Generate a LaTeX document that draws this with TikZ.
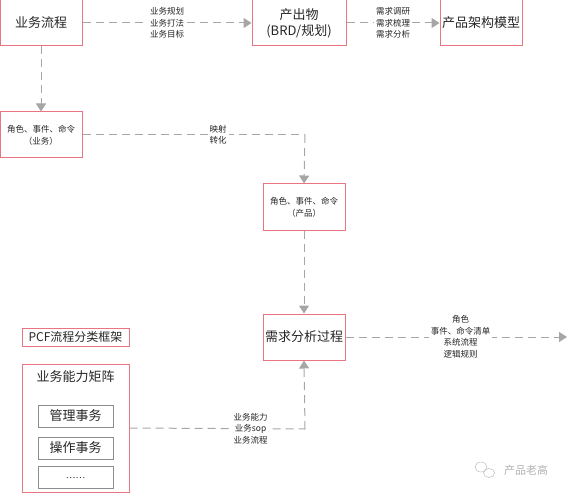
\documentclass[tikz,border=0pt]{standalone}
\usepackage{fontspec}
\setmainfont{Noto Sans CJK SC}
\usetikzlibrary{arrows.meta}
\definecolor{boxred}{RGB}{232,118,130}
\definecolor{linegray}{RGB}{166,166,166}
\definecolor{txt}{RGB}{38,38,38}
\begin{document}
\begin{tikzpicture}[x=1pt,y=-1pt,
  bigbox/.style={draw=boxred,line width=1pt,minimum width=82pt,minimum height=46pt,align=center,font=\fontsize{13}{16}\selectfont,text=txt,inner sep=0pt},
  smallbox/.style={draw=boxred,line width=1pt,minimum width=82pt,minimum height=46pt,align=center,font=\fontsize{8.5}{12}\selectfont,text=txt,inner sep=0pt},
  graybox/.style={draw=gray!90,line width=0.8pt,minimum width=75pt,minimum height=22pt,font=\fontsize{13}{16}\selectfont,text=txt,inner sep=0pt},
  conn/.style={draw=linegray,line width=1pt,dash pattern=on 8pt off 5pt,-{Triangle[width=10pt,length=8pt,fill=linegray]}},
  connplain/.style={draw=linegray,line width=1pt,dash pattern=on 8pt off 5pt},
  lbl/.style={fill=white,align=center,font=\fontsize{8.5}{11.5}\selectfont,text=txt,inner sep=2pt}
]
\useasboundingbox (0,0) rectangle (569,494);
\node[bigbox] (flow) at (41,23) {业务流程};
\node[bigbox,minimum width=94pt] (out) at (299,23) {产出物\\(BRD/规划)};
\node[bigbox] (arch) at (481,23) {产品架构模型};
\node[smallbox] (rb) at (41,135) {角色、事件、命令\\（业务）};
\node[smallbox] (rp) at (304,207) {角色、事件、命令\\（产品）};
\node[bigbox] (req) at (304,337) {需求分析过程};
\node[draw=boxred,line width=1pt,minimum width=107pt,minimum height=18pt,inner sep=0pt,font=\fontsize{12}{14}\selectfont,text=txt] (pcf) at (75.5,337) {PCF流程分类框架};
\node[draw=boxred,line width=1pt,minimum width=107pt,minimum height=128pt,inner sep=0pt] (mat) at (75.5,428) {};
\node[font=\fontsize{13}{16}\selectfont,text=txt] (mattitle) at (75.5,377) {业务能力矩阵};
\node[graybox] (g1) at (75.5,416) {管理事务};
\node[graybox] (g2) at (75.5,448) {操作事务};
\node[graybox,font=\fontsize{9}{11}\selectfont] (g3) at (75.5,477) {\raisebox{-3pt}{……}};
\coordinate (end) at (567,337);
\coordinate (c1) at (305,135);
\coordinate (c2) at (305,429);

\draw[conn] (flow.east) -- node[lbl] {业务规划\\业务打法\\业务目标} (out.west);
\draw[conn] (out.east) -- node[lbl] {需求调研\\需求梳理\\需求分析} (arch.west);
\draw[conn] (flow.south) -- (rb.north);
\draw[connplain] (rb.east) -- node[lbl,pos=0.61] {映射\\转化} (c1);
\draw[conn] (c1) -- (rp.north);
\draw[conn] (rp.south) -- (req.north);
\draw[conn] (req.east) -- node[lbl,pos=0.52] {角色\\事件、命令清单\\系统流程\\逻辑规则} (end);
\draw[connplain] (mat.east) -- node[lbl,pos=0.69] {业务能力\\业务sop\\业务流程} (c2);
\draw[conn] (c2) -- (req.south);

\node[text=gray!60,font=\fontsize{11}{13}\selectfont] (wm) at (526,470) {产品老高};
\draw[gray!50,line width=0.5pt] (481,467) ellipse (6pt and 5pt);
\draw[gray!50,line width=0.5pt] (489,473) ellipse (5.5pt and 4.5pt);
\end{tikzpicture}
\end{document}
